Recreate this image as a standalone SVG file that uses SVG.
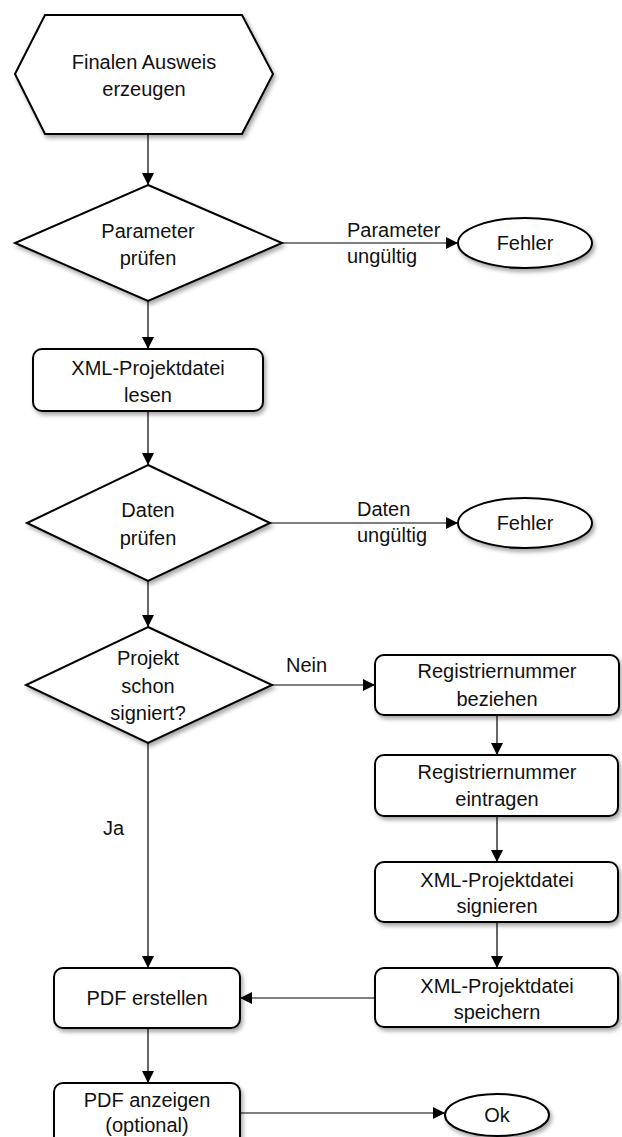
<svg xmlns="http://www.w3.org/2000/svg" width="622" height="1137" viewBox="0 0 622 1137">
<defs>
<filter id="sh" x="-10%" y="-10%" width="130%" height="140%">
<feDropShadow dx="2" dy="3" stdDeviation="2" flood-color="#000" flood-opacity="0.35"/>
</filter>
<marker id="arr" markerWidth="12" markerHeight="12" refX="12" refY="6" orient="auto" markerUnits="userSpaceOnUse">
<path d="M0,0 L12,6 L0,12 z" fill="#000"/>
</marker>
</defs>
<style>
.n{fill:#fff;stroke:#000;stroke-width:2;filter:url(#sh)}
.t{font-family:"Liberation Sans",Arial,sans-serif;font-size:20px;fill:#111;text-anchor:middle}
.l{font-family:"Liberation Sans",Arial,sans-serif;font-size:20px;fill:#111}
.e{fill:none;stroke:#000;stroke-width:1.2;marker-end:url(#arr)}
</style>
<rect width="622" height="1137" fill="#fff"/>
<g id="connectors">
<line class="e" x1="148" y1="134" x2="148" y2="185"/>
<line class="e" x1="282" y1="243" x2="458" y2="243"/>
<line class="e" x1="148" y1="301" x2="148" y2="349"/>
<line class="e" x1="148" y1="411" x2="148" y2="465"/>
<line class="e" x1="270" y1="523" x2="458" y2="523"/>
<line class="e" x1="148" y1="581" x2="148" y2="627"/>
<line class="e" x1="272" y1="685" x2="375" y2="685"/>
<line class="e" x1="148" y1="743" x2="148" y2="968"/>
<line class="e" x1="497" y1="715" x2="497" y2="755"/>
<line class="e" x1="497" y1="816" x2="497" y2="862"/>
<line class="e" x1="497" y1="922" x2="497" y2="968"/>
<line class="e" x1="375" y1="998" x2="240" y2="998"/>
<line class="e" x1="148" y1="1028" x2="148" y2="1083"/>
<line class="e" x1="240" y1="1113" x2="445" y2="1113"/>
<text class="l" x="347" y="237">Parameter</text>
<text class="l" x="347" y="263">ungültig</text>
<text class="l" x="357" y="516">Daten</text>
<text class="l" x="357" y="542">ungültig</text>
<text class="l" x="286" y="672">Nein</text>
<text class="l" x="103" y="835">Ja</text>
</g>
<g id="start">
<polygon class="n" points="15,74 45,15 242,15 273,74 242,134 45,134"/>
<text class="t" x="144" y="69">Finalen Ausweis</text>
<text class="t" x="144" y="96">erzeugen</text>
</g>
<g id="param">
<polygon class="n" points="148,185 282,243 148,301 15,243"/>
<text class="t" x="148" y="238">Parameter</text>
<text class="t" x="148" y="265">prüfen</text>
</g>
<g id="fehler1">
<ellipse class="n" cx="525" cy="243" rx="67" ry="25"/>
<text class="t" x="525" y="250">Fehler</text>
</g>
<g id="lesen">
<rect class="n" x="33" y="349" width="230" height="62" rx="9"/>
<text class="t" x="148" y="375">XML-Projektdatei</text>
<text class="t" x="148" y="402">lesen</text>
</g>
<g id="daten">
<polygon class="n" points="148,465 270,523 148,581 27,523"/>
<text class="t" x="148" y="517">Daten</text>
<text class="t" x="148" y="545">prüfen</text>
</g>
<g id="fehler2">
<ellipse class="n" cx="525" cy="523" rx="67" ry="25"/>
<text class="t" x="525" y="530">Fehler</text>
</g>
<g id="signiert">
<polygon class="n" points="148,627 272,685 148,743 26,685"/>
<text class="t" x="148" y="665">Projekt</text>
<text class="t" x="148" y="693">schon</text>
<text class="t" x="148" y="720">signiert?</text>
</g>
<g id="beziehen">
<rect class="n" x="375" y="655" width="244" height="60" rx="9"/>
<text class="t" x="497" y="678">Registriernummer</text>
<text class="t" x="497" y="706">beziehen</text>
</g>
<g id="eintragen">
<rect class="n" x="375" y="755" width="243" height="61" rx="9"/>
<text class="t" x="497" y="779">Registriernummer</text>
<text class="t" x="497" y="806">eintragen</text>
</g>
<g id="signieren">
<rect class="n" x="375" y="862" width="243" height="60" rx="9"/>
<text class="t" x="497" y="887">XML-Projektdatei</text>
<text class="t" x="497" y="913">signieren</text>
</g>
<g id="speichern">
<rect class="n" x="375" y="968" width="243" height="59" rx="9"/>
<text class="t" x="497" y="993">XML-Projektdatei</text>
<text class="t" x="497" y="1019">speichern</text>
</g>
<g id="pdf_erstellen">
<rect class="n" x="54" y="968" width="186" height="60" rx="9"/>
<text class="t" x="147" y="1005">PDF erstellen</text>
</g>
<g id="pdf_anzeigen">
<rect class="n" x="54" y="1083" width="186" height="64" rx="9"/>
<text class="t" x="147" y="1107">PDF anzeigen</text>
<text class="t" x="147" y="1132">(optional)</text>
</g>
<g id="ok">
<ellipse class="n" cx="497" cy="1115" rx="52" ry="21"/>
<text class="t" x="497" y="1122">Ok</text>
</g>
</svg>
